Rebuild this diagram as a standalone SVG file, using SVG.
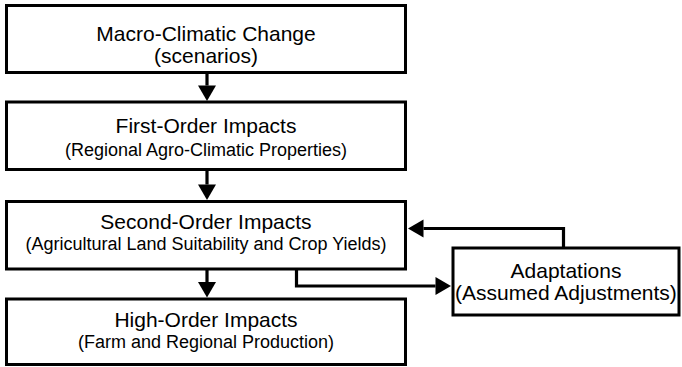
<svg xmlns="http://www.w3.org/2000/svg" width="682" height="367" viewBox="0 0 682 367">
<style>
.box{fill:#fff;stroke:#000;stroke-width:3}
.conn{fill:none;stroke:#000;stroke-width:3.2}
.t{font-family:"Liberation Sans",Arial,sans-serif;font-size:21px;fill:#000;text-anchor:middle}
.s{font-family:"Liberation Sans",Arial,sans-serif;font-size:18px;fill:#000;text-anchor:middle}
</style>
<defs>
<marker id="ah" markerUnits="userSpaceOnUse" markerWidth="16" markerHeight="18" refX="0" refY="9" orient="auto" overflow="visible">
<path d="M0,0 L15.5,9 L0,18 Z" fill="#000"/>
</marker>
</defs>
<rect width="682" height="367" fill="#fff"/>
<g id="connectors">
<path class="conn" d="M207,73 V85.5" marker-end="url(#ah)"/>
<path class="conn" d="M207,170 V184.5" marker-end="url(#ah)"/>
<path class="conn" d="M207,270 V282" marker-end="url(#ah)"/>
<path class="conn" d="M296.5,270 V286 H435.5" marker-end="url(#ah)"/>
<path class="conn" d="M563.5,247 V228.5 H423.5" marker-end="url(#ah)"/>
</g>
<g id="macro">
<rect class="box" x="6.5" y="5.5" width="399" height="67"/>
<text class="t" x="206" y="41">Macro-Climatic Change</text>
<text class="t" x="206" y="63">(scenarios)</text>
</g>
<g id="first">
<rect class="box" x="6.5" y="102" width="399" height="67.5"/>
<text class="t" x="206" y="133">First-Order Impacts</text>
<text class="s" x="206" y="156">(Regional Agro-Climatic Properties)</text>
</g>
<g id="second">
<rect class="box" x="6.5" y="201.5" width="399" height="67.5"/>
<text class="t" x="206" y="229">Second-Order Impacts</text>
<text class="s" x="206" y="249.5">(Agricultural Land Suitability and Crop Yields)</text>
</g>
<g id="high">
<rect class="box" x="6.5" y="299" width="399" height="65.5"/>
<text class="t" x="206" y="326.5">High-Order Impacts</text>
<text class="s" x="206" y="348">(Farm and Regional Production)</text>
</g>
<g id="adaptations">
<rect class="box" x="453" y="248" width="226" height="67"/>
<text class="t" x="566" y="277.5">Adaptations</text>
<text class="t" x="566" y="300">(Assumed Adjustments)</text>
</g>
</svg>
